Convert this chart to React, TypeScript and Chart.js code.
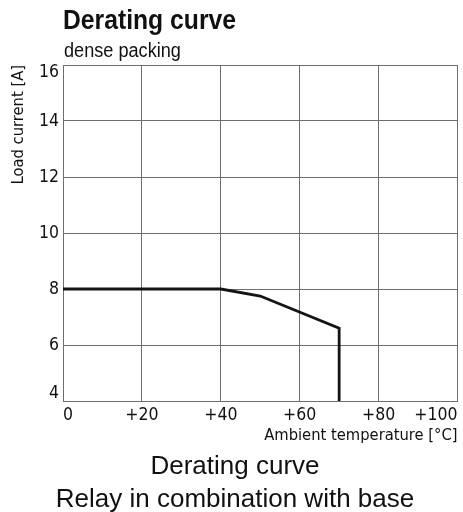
import React, { useEffect, useRef } from "react";
import { Chart, registerables } from "chart.js";

Chart.register(...registerables);

const titleText = "Derating curve";
const subtitleText = "dense packing";
const captionLines = ["Derating curve", "Relay in combination with base"];
const xAxisTitle = "Ambient temperature [°C]";
const yAxisTitle = "Load current [A]";

const temperatureC = [0, 40, 50, 70, 70];
const loadCurrentA = [8, 8, 7.75, 6.6, 4];

const xTickValues = [0, 20, 40, 60, 80, 100];
const xTickLabels = ["0", "+20", "+40", "+60", "+80", "+100"];
const yTickValues = [4, 6, 8, 10, 12, 14, 16];
const yTickLabels = ["4", "6", "8", "10", "12", "14", "16"];

const NARROW = "'DejaVu Sans Condensed', 'Liberation Sans Narrow', sans-serif";
const SANS = "'Liberation Sans', Arial, Helvetica, sans-serif";
const GRID = "#6e6e6e";

export default function App() {
  const canvasRef = useRef<HTMLCanvasElement | null>(null);

  useEffect(() => {
    if (!canvasRef.current) return;
    const chart = new Chart(canvasRef.current, {
      type: "line",
      data: {
        datasets: [
          {
            data: temperatureC.map((x, i) => ({ x, y: loadCurrentA[i] })),
            borderColor: "#141414",
            borderWidth: 2.8,
            pointRadius: 0,
            tension: 0,
            fill: false,
            borderJoinStyle: "miter",
            borderCapStyle: "butt",
          },
        ],
      },
      options: {
        animation: false,
        responsive: false,
        maintainAspectRatio: false,
        layout: { padding: { left: 0, top: 65, right: 4, bottom: 61 } },
        plugins: {
          legend: { display: false },
          tooltip: { enabled: false },
          title: { display: false },
        },
        scales: {
          x: {
            type: "linear",
            min: xTickValues[0],
            max: xTickValues[xTickValues.length - 1],
            afterFit: (scale: any) => {
              scale.height = 50;
            },
            afterBuildTicks: (scale: any) => {
              scale.ticks = xTickValues.map((v) => ({ value: v }));
            },
            ticks: {
              autoSkip: false,
              maxRotation: 0,
              minRotation: 0,
              align: "inner",
              padding: 5.5,
              color: "#111",
              font: { family: NARROW, size: 17.5, lineHeight: 1 },
              callback: (value: any) => {
                const i = xTickValues.indexOf(Number(value));
                return i >= 0 ? xTickLabels[i] : "";
              },
            },
            grid: { color: GRID, lineWidth: 1, drawTicks: false },
            border: { display: true, color: GRID, width: 1 },
            title: {
              display: true,
              text: xAxisTitle,
              align: "end",
              color: "#111",
              font: { family: NARROW, size: 16.4, lineHeight: 1 },
              padding: { top: 0, bottom: 7.2 },
            },
          },
          y: {
            type: "linear",
            min: yTickValues[0],
            max: yTickValues[yTickValues.length - 1],
            afterFit: (scale: any) => {
              scale.width = 63;
            },
            afterBuildTicks: (scale: any) => {
              scale.ticks = yTickValues.map((v) => ({ value: v }));
            },
            ticks: {
              autoSkip: false,
              padding: 4,
              color: "#111",
              font: { family: NARROW, size: 17.5, lineHeight: "15.5px" },
              callback: (value: any) => {
                const i = yTickValues.indexOf(Number(value));
                if (i < 0) return "";
                const label = yTickLabels[i];
                if (i === 0) return [label, ""];
                if (i === yTickValues.length - 1) return ["", label];
                return label;
              },
            },
            grid: { color: GRID, lineWidth: 1, drawTicks: false },
            border: { display: true, color: GRID, width: 1 },
            title: {
              display: true,
              text: yAxisTitle,
              align: "end",
              color: "#111",
              font: { family: NARROW, size: 16.4, lineHeight: 1 },
              padding: { top: 11, bottom: 0 },
            },
          },
        },
      },
    });
    return () => chart.destroy();
  }, []);

  const textBase: React.CSSProperties = {
    position: "absolute",
    whiteSpace: "nowrap",
    color: "#111",
    margin: 0,
  };

  return (
    <div style={{ position: "absolute", left: 0, top: 0, width: 463, height: 512, background: "#fff", overflow: "hidden" }}>
      <canvas ref={canvasRef} width={463} height={512} style={{ position: "absolute", left: 0, top: 0, width: 463, height: 512 }} />
      <div
        style={{
          ...textBase,
          left: 63,
          top: 6.6,
          fontFamily: SANS,
          fontWeight: 700,
          fontSize: 27,
          lineHeight: "27px",
          transform: "scaleX(0.915)",
          transformOrigin: "0 0",
        }}
      >
        {titleText}
      </div>
      <div
        style={{
          ...textBase,
          left: 64,
          top: 40.5,
          fontFamily: SANS,
          fontSize: 19.5,
          lineHeight: "19.5px",
          transform: "scaleX(0.93)",
          transformOrigin: "0 0",
        }}
      >
        {subtitleText}
      </div>
      {captionLines.map((line, i) => (
        <div
          key={i}
          style={{
            ...textBase,
            left: 0,
            width: 470,
            textAlign: "center",
            top: i === 0 ? 452 : 484.6,
            fontFamily: SANS,
            fontSize: 26,
            lineHeight: "26px",
          }}
        >
          {line}
        </div>
      ))}
    </div>
  );
}
